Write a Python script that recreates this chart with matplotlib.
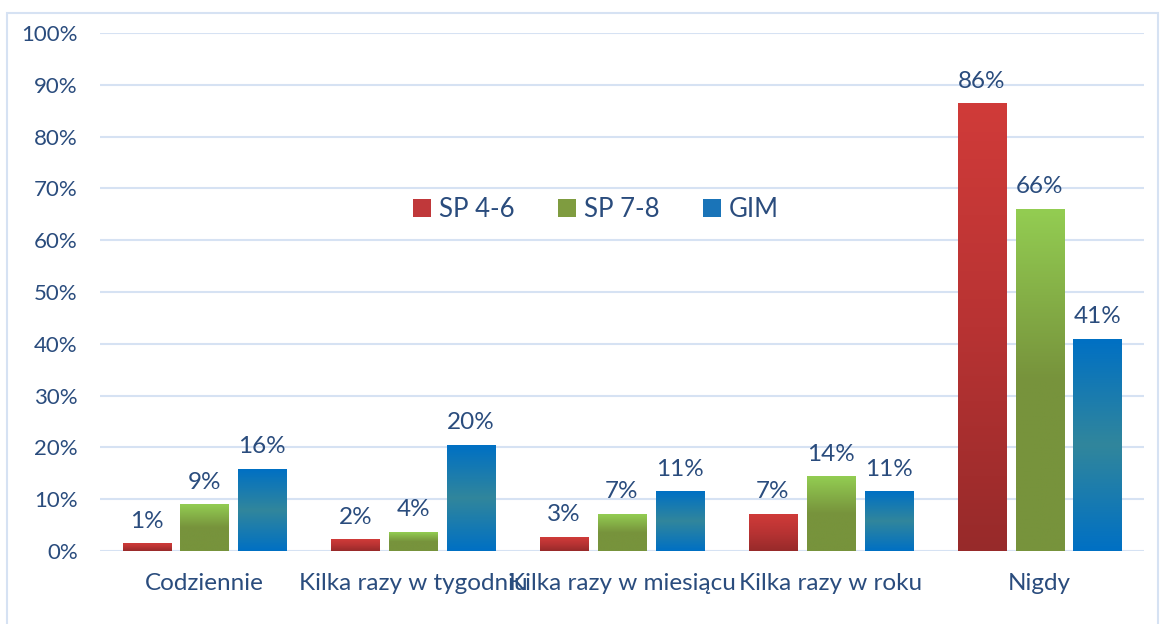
import matplotlib.pyplot as plt
import numpy as np
from matplotlib.colors import LinearSegmentedColormap
from matplotlib.patches import Rectangle

categories = ["Codziennie", "Kilka razy w tygodniu", "Kilka razy w miesiącu",
              "Kilka razy w roku", "Nigdy"]
series = ["SP 4-6", "SP 7-8", "GIM"]
sp46 = [1.4, 2.2, 2.7, 7.1, 86.4]
sp78 = [8.9, 3.6, 7.1, 14.3, 66.0]
gim = [15.8, 20.4, 11.4, 11.4, 40.9]

plt.rcParams['font.family'] = ['Lato', 'DejaVu Sans']
txt = '#2a4c7d'
grid = '#d6e2f3'

# colour stops from bottom to top
cmaps = [
    LinearSegmentedColormap.from_list('r', ['#972a2a', '#b83333', '#d03b39']),
    LinearSegmentedColormap.from_list('g', ['#77933c', '#77933c', '#93cd52']),
    LinearSegmentedColormap.from_list('b', ['#0070c4', '#31869c', '#0070c4']),
]
solid = ['#c0383a', '#7f9c40', '#1a74b8']

fig = plt.figure(figsize=(11.6, 6.24), dpi=100)
ax = fig.add_axes([0.0862, 0.117, 0.9, 0.83])
fig.patches.append(Rectangle((0.006, -0.1), 0.992, 1.079, transform=fig.transFigure,
                             fill=False, edgecolor=grid, lw=1.5))

x = np.arange(len(categories))
w = 0.23
off = 0.277
grad = np.linspace(0, 1, 256).reshape(-1, 1)
for i, vals in enumerate([sp46, sp78, gim]):
    xs = x + (i - 1) * off
    bars = ax.bar(xs, vals, w, color='none', zorder=3)
    for b, v in zip(bars, vals):
        x0 = b.get_x()
        ax.imshow(grad, cmap=cmaps[i], origin='lower', aspect='auto',
                  extent=(x0, x0 + w, 0, v), zorder=3)
        ax.text(b.get_x() + w / 2, v + 2.3, f"{v:.0f}%", ha='center', va='bottom',
                fontsize=17.5, color=txt)
    ax.bar([0], [0], w, color=solid[i], label=series[i])

ax.set_xlim(-0.5, len(categories) - 0.5)
ax.set_ylim(0, 100)
ax.set_yticks(range(0, 101, 10))
ax.set_yticklabels([f"{t}%" for t in range(0, 101, 10)])
ax.set_xticks(x)
ax.set_xticklabels(categories)
ax.tick_params(axis='both', length=0, colors=txt)
ax.tick_params(axis='y', pad=16, labelsize=16)
ax.tick_params(axis='x', pad=16, labelsize=17.5)
ax.grid(axis='y', color=grid, lw=1.5, zorder=0)
ax.set_axisbelow(True)
for s in ax.spines.values():
    s.set_visible(False)

ax.legend(loc='center', bbox_to_anchor=(0.475, 0.66), ncol=3, frameon=False,
          fontsize=18.5, labelcolor=txt, handlelength=0.7, handleheight=0.7,
          handletextpad=0.3, columnspacing=1.7)

plt.savefig("out.png")
